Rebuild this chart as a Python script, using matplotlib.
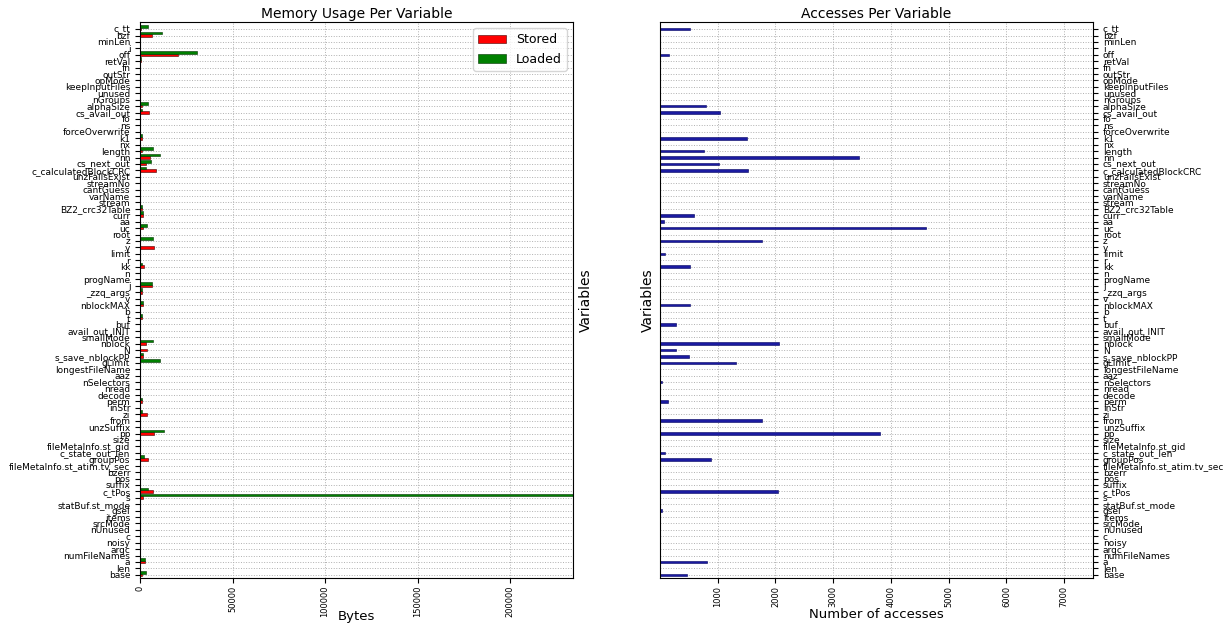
import matplotlib
matplotlib.use('Agg')
import matplotlib.pyplot as plt
import numpy as np

# variables, listed top to bottom as they appear
names = ['c_tt', 'bzf', 'minLen', 'i', 'off', 'retVal', 'fn', 'outStr', 'opMode', 'keepInputFiles',
         'unused', 'nGroups', 'alphaSize', 'cs_avail_out', 'fo', 'ns', 'forceOverwrite', 'k1', 'nx', 'length',
         'nn', 'cs_next_out', 'c_calculatedBlockCRC', 'unzFailsExist', 'streamNo', 'cantGuess', 'varName', 'stream',
         'BZ2_crc32Table', 'curr', 'aa', 'uc', 'root', 'z', 'y', 'limit', 'r', 'kk', 'n', 'progName', 'j',
         '_zzq_args', 'v', 'nblockMAX', 'b', 't', 'buf', 'avail_out_INIT', 'smallMode', 'nblock', 'N',
         's_save_nblockPP', 'gLimit', 'longestFileName', 'aaz', 'nSelectors', 'nread', 'decode', 'perm', 'inStr',
         'zi', 'from', 'unzSuffix', 'pp', 'size', 'fileMetaInfo.st_gid', 'c_state_out_len', 'groupPos',
         'fileMetaInfo.st_atim.tv_sec', 'bzerr', 'pos', 'suffix', 'c_tPos', 's', 'statBuf.st_mode', 'gsel',
         'items', 'srcMode', 'nUnused', 'c', 'noisy', 'argc', 'numFileNames', 'a', 'len', 'base']

stored = {'c_tt': 500, 'bzf': 6500, 'off': 20500, 'retVal': 300, 'alphaSize': 800, 'cs_avail_out': 4900,
          'k1': 800, 'length': 800, 'nn': 5400, 'cs_next_out': 3000, 'c_calculatedBlockCRC': 8600,
          'BZ2_crc32Table': 1200, 'curr': 1500, 'uc': 1500, 'y': 7500, 'kk': 2000, 'j': 6500,
          '_zzq_args': 1000, 'nblockMAX': 1500, 't': 1000, 'nblock': 3000, 'N': 3800, 's_save_nblockPP': 1500,
          'perm': 1000, 'zi': 3800, 'pp': 7500, 'groupPos': 4300, 'c_tPos': 7000, 's': 1500, 'a': 2500,
          'base': 1000}
loaded = {'c_tt': 4300, 'bzf': 12000, 'off': 30800, 'retVal': 600, 'alphaSize': 4300, 'cs_avail_out': 800,
          'k1': 800, 'length': 7000, 'nn': 10800, 'cs_next_out': 6000, 'c_calculatedBlockCRC': 3000,
          'BZ2_crc32Table': 1200, 'curr': 1500, 'uc': 3800, 'z': 7000, 'kk': 800, 'j': 6500,
          '_zzq_args': 800, 'nblockMAX': 1500, 't': 1000, 'nblock': 7000, 's_save_nblockPP': 1500,
          'gLimit': 11000, 'perm': 800, 'zi': 1000, 'pp': 13000, 'groupPos': 2000, 'c_tPos': 4300,
          's': 234000, 'a': 2500, 'base': 3000}
accesses = {'c_tt': 520, 'off': 160, 'alphaSize': 800, 'cs_avail_out': 1040, 'k1': 1500, 'length': 760,
            'nn': 3450, 'cs_next_out': 1020, 'c_calculatedBlockCRC': 1530, 'curr': 590, 'aa': 70, 'uc': 4610,
            'z': 1770, 'limit': 90, 'kk': 520, 'nblockMAX': 520, 'buf': 280, 'nblock': 2060, 'N': 280,
            's_save_nblockPP': 500, 'gLimit': 1320, 'nSelectors': 40, 'perm': 140, 'from': 1770, 'pp': 3810,
            'c_state_out_len': 90, 'groupPos': 880, 'c_tPos': 2050, 'gsel': 40, 'a': 810, 'base': 470}

labels = names[::-1]
ind = np.arange(len(labels))
st = [stored.get(n, 0) for n in labels]
ld = [loaded.get(n, 0) for n in labels]
acc = [accesses.get(n, 0) for n in labels]

fig = plt.figure(figsize=(12.24, 6.3), dpi=100)
ax1 = fig.add_axes([0.1144, 0.0825, 0.3538, 0.8825])
ax2 = fig.add_axes([0.5392, 0.0825, 0.3538, 0.8825])

h = 0.4
ax1.barh(ind, st, h, color='r', edgecolor='#400000', linewidth=0.4, label='Stored')
ax1.barh(ind + h, ld, h, color='g', edgecolor='#003000', linewidth=0.4, label='Loaded')
ax1.set_yticks(ind)
ax1.set_yticklabels(labels, fontsize=6.5)
ax1.set_ylim(-0.5, len(labels) + 0.1)
ax1.set_xlim(0, 234000)
ax1.set_xticks([0, 50000, 100000, 150000, 200000])
ax1.tick_params(axis='x', labelrotation=90, labelsize=6, pad=2)
ax1.set_title('Memory Usage Per Variable', fontsize=10, pad=3)
ax1.set_xlabel('Bytes', fontsize=9.5)
ax1.xaxis.set_label_coords(0.5, -0.058)
ax1.yaxis.set_label_position('right')
ax1.set_ylabel('Variables', fontsize=10, labelpad=4)
ax1.grid(True, color='#b0b0b0', linestyle=':', linewidth=0.7)
ax1.set_axisbelow(True)
ax1.legend(loc='upper right', fontsize=9, handlelength=2.2)

ax2.barh(ind, acc, h, color='#1a1aa0', edgecolor='#000060', linewidth=0.4)
ax2.yaxis.tick_right()
ax2.set_yticks(ind)
ax2.set_yticklabels(labels, fontsize=6.5)
ax2.set_ylim(-0.5, len(labels) + 0.1)
ax2.set_xlim(0, 7500)
ax2.set_xticks([1000, 2000, 3000, 4000, 5000, 6000, 7000])
ax2.tick_params(axis='x', labelrotation=90, labelsize=6, pad=2)
ax2.set_title('Accesses Per Variable', fontsize=10, pad=3)
ax2.set_xlabel('Number of accesses', fontsize=9.5, labelpad=1)
ax2.yaxis.set_label_position('left')
ax2.set_ylabel('Variables', fontsize=10, labelpad=4)
ax2.grid(True, color='#b0b0b0', linestyle=':', linewidth=0.7)
ax2.set_axisbelow(True)

fig.savefig('out.png', dpi=100)
